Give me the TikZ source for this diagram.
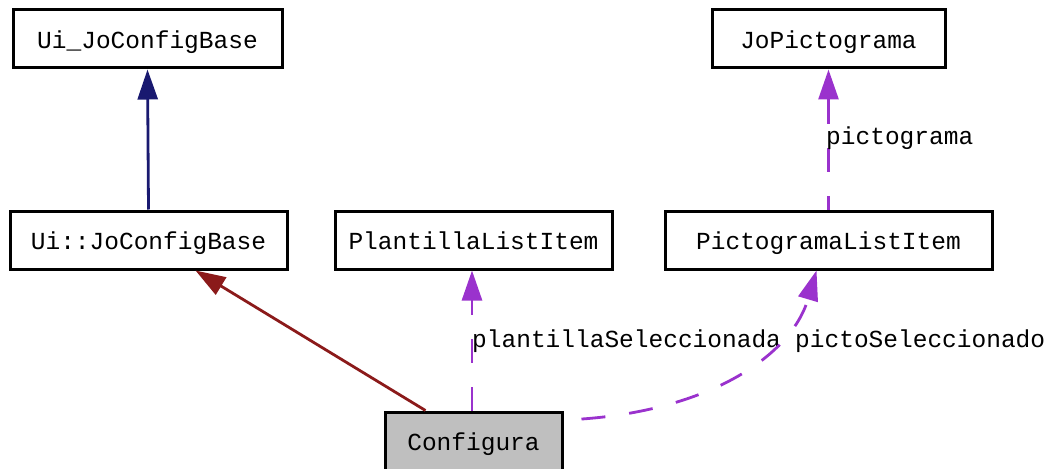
\documentclass[tikz,border=0pt]{standalone}
\usepackage{fontspec}
\setmonofont{Liberation Mono}
\usetikzlibrary{arrows.meta,calc}
\definecolor{edgenavy}{RGB}{25,25,112}
\definecolor{edgered}{RGB}{139,26,26}
\definecolor{edgepurple}{RGB}{154,50,205}
\definecolor{boxgray}{RGB}{191,191,191}
\begin{document}
\begin{tikzpicture}[x=1pt,y=-1pt,
  cls/.style={draw=black,line width=3pt,rectangle,minimum height=58pt,inner sep=0pt,
    text height=20pt,text depth=1pt,
    font=\fontsize{24.5}{30}\selectfont\ttfamily},
  lbl/.style={inner sep=0pt,anchor=west,font=\fontsize{24.5}{30}\selectfont\ttfamily},
  tip/.style={-{Triangle[length=30pt,width=20pt]}},
  inherit/.style={tip,line width=2.8pt},
  usage/.style={tip,line width=2.8pt,draw=edgepurple,dash pattern=on 24pt off 24pt}]
\useasboundingbox (0,0) rectangle (1059,468);
\node[cls,minimum width=269pt] (uib) at (147.5,39) {Ui\_JoConfigBase};
\node[cls,minimum width=233pt] (jop) at (828.5,39) {JoPictograma};
\node[cls,minimum width=277pt] (uijc) at (148.5,240) {Ui::JoConfigBase};
\node[cls,minimum width=277pt] (pli) at (473.5,240) {PlantillaListItem};
\node[cls,minimum width=327pt] (pgli) at (828.5,240) {PictogramaListItem};
\node[cls,minimum width=177pt,fill=boxgray] (conf) at (473.5,441) {Configura};
% inheritance
\draw[inherit,draw=edgenavy] (uijc.north) -- (uib.south);
\coordinate (ft) at ($(uijc.south west)+(187,0)$);
\coordinate (fs) at ($(conf.north west)+(42,0)$);
\draw[inherit,draw=edgered] (fs) -- (ft);
% usage
\coordinate (ps) at ($(conf.north west)+(88.5,0)$);
\coordinate (pt) at ($(pli.south west)+(138.5,0)$);
\draw[usage] (ps) -- (pt);
\node[lbl] (l1) at (472,341) {plantillaSeleccionada};
\coordinate (cs) at ($(conf.east)+(0,-21)$);
\coordinate (ct) at ($(pgli.south west)+(153,0)$);
\draw[usage,dash phase=30pt] (cs) .. controls (700,415) and (790,360) .. (ct);
\node[lbl] (l2) at (795,341) {pictoSeleccionado};
\draw[usage,dash phase=10pt] (pgli.north) -- (jop.south);
\node[lbl] (l3) at (826,138) {pictograma};
\end{tikzpicture}
\end{document}
